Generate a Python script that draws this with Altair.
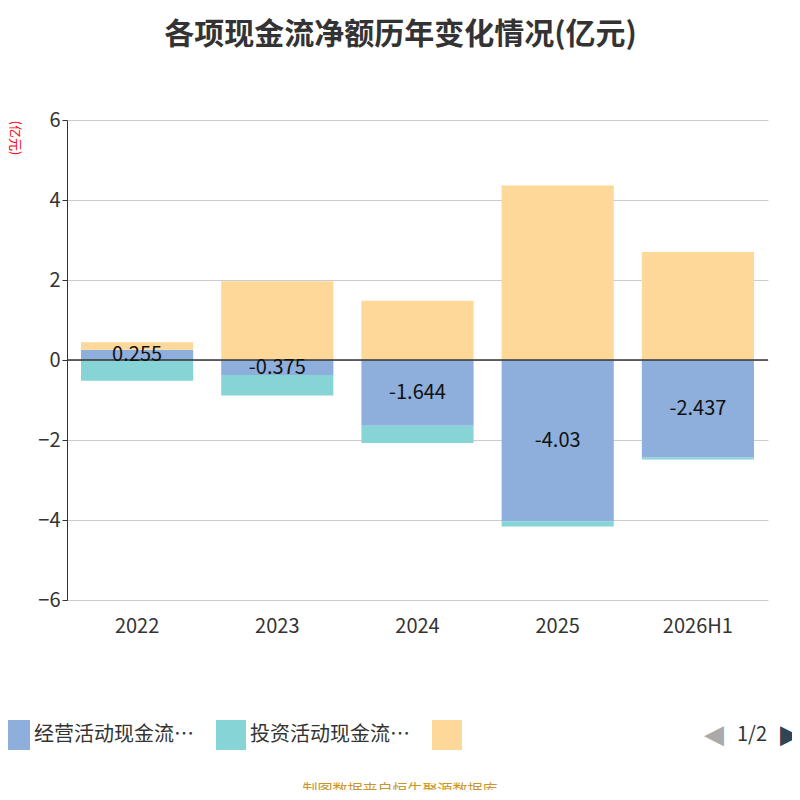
import altair as alt
import pandas as pd

years = ["2022", "2023", "2024", "2025", "2026H1"]
series = ["经营活动现金流量净额", "投资活动现金流量净额", "筹资活动现金流量净额"]
operating = [0.255, -0.375, -1.644, -4.03, -2.437]
investing = [-0.52, -0.51, -0.43, -0.13, -0.05]
financing = [0.19, 1.97, 1.48, 4.36, 2.70]
colours = ["#8eaedb", "#86d4d6", "#fdd898"]

rows = []
for i, y in enumerate(years):
    pos, neg = 0.0, 0.0
    for s, v in zip(series, [operating[i], investing[i], financing[i]]):
        if v >= 0:
            lo, hi = pos, pos + v
            pos = hi
        else:
            lo, hi = neg + v, neg
            neg = lo
        rows.append({"year": y, "series": s, "lo": lo, "hi": hi, "value": v})
df = pd.DataFrame(rows)

labels = pd.DataFrame({"year": years, "mid": [v / 2 for v in operating],
                       "text": [f"{v:g}" for v in operating]})

font = "Noto Sans CJK SC"
x_enc = alt.X("year:N", sort=years, title=None,
              scale=alt.Scale(paddingInner=0.2, paddingOuter=0.1),
              axis=alt.Axis(labelFontSize=20, labelColor="#333", labelAngle=0,
                            domain=False, ticks=False, labelPadding=16, labelFont=font))
y_scale = alt.Scale(domain=[-6, 6])

bars = alt.Chart(df).mark_bar().encode(
    x=x_enc,
    y=alt.Y("lo:Q", scale=y_scale, title="(亿元)",
            axis=alt.Axis(values=[-6, -4, -2, 0, 2, 4, 6], labelFontSize=20,
                          labelColor="#333", gridColor="#ccc", domainColor="#333",
                          tickColor="#333", titleColor="red", titleFontSize=13,
                          titleFontWeight="normal", titleAngle=90, titleX=-60,
                          titleY=0, titleAlign="left", labelFont=font, titleFont=font)),
    y2="hi:Q",
    color=alt.Color("series:N", sort=series,
                    scale=alt.Scale(domain=series, range=colours),
                    legend=alt.Legend(orient="none", legendX=-67, legendY=600,
                                      direction="horizontal", title=None,
                                      symbolType="square", symbolSize=900,
                                      symbolStrokeWidth=0, labelFontSize=20,
                                      labelColor="#333", labelFont=font,
                                      columnPadding=22, symbolOffset=0,
                                      labelExpr="datum.label == '筹资活动现金流量净额' ? '' : datum.label")),
)

zero = alt.Chart(pd.DataFrame({"y": [0]})).mark_rule(color="#333", strokeWidth=1.5).encode(
    y=alt.Y("y:Q", scale=y_scale))

text = alt.Chart(labels).mark_text(fontSize=20, color="#111", font=font).encode(
    x=alt.X("year:N", sort=years), y=alt.Y("mid:Q", scale=y_scale), text="text:N")

extra = pd.DataFrame({"t": ["1/2"]})
pager = alt.Chart(extra).mark_text(fontSize=20, color="#333", font=font).encode(
    x=alt.value(685), y=alt.value(615), text="t:N")
left = alt.Chart(extra).mark_text(fontSize=26, color="#aaa", text="◀").encode(
    x=alt.value(647), y=alt.value(615))
right = alt.Chart(extra).mark_text(fontSize=26, color="#2f4554", text="▶").encode(
    x=alt.value(723), y=alt.value(615))
footer = alt.Chart(extra).mark_text(fontSize=15, color="#c8962a", font=font,
                                    text="制图数据来自恒生聚源数据库").encode(
    x=alt.value(333), y=alt.value(670))

chart = alt.layer(bars, zero, text, pager, left, right, footer).properties(
    width=701, height=480,
    autosize=alt.AutoSizeParams(type="none"),
    padding={"left": 59, "top": 112, "right": 24, "bottom": 190},
    title=alt.TitleParams("各项现金流净额历年变化情况(亿元)", fontSize=30, font=font,
                          fontWeight="bold", color="#333", anchor="middle",
                          dx=-17, offset=60),
).configure_view(stroke=None)

chart.save("out.html", embed_options={"renderer": "svg", "actions": False})
